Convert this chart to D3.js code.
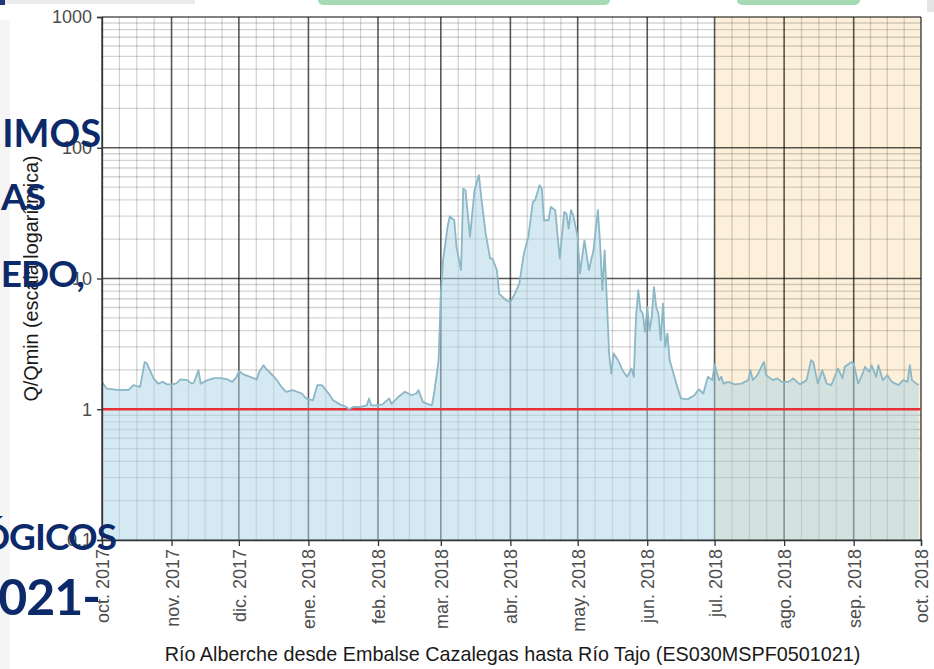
<!DOCTYPE html>
<html>
<head>
<meta charset="utf-8">
<script src="https://cdnjs.cloudflare.com/ajax/libs/d3/7.8.5/d3.min.js"></script>
<style>
  html, body { margin: 0; padding: 0; background: #fff; }
  figure { margin: 0; }
  svg { display: block; }
</style>
</head>
<body>
<figure id="chart"></figure>
<script>
// daily Q/Qmin readings (sampled from the figure)
const dates = [
  "2017-10-01","2017-10-03","2017-10-06","2017-10-09","2017-10-13","2017-10-15","2017-10-18","2017-10-20","2017-10-21","2017-10-24","2017-10-26","2017-10-28","2017-10-30",
  "2017-11-01","2017-11-03","2017-11-05","2017-11-08","2017-11-10","2017-11-11","2017-11-13","2017-11-14","2017-11-17","2017-11-20","2017-11-23","2017-11-26","2017-11-28","2017-11-30",
  "2017-12-01","2017-12-03","2017-12-06","2017-12-09","2017-12-10","2017-12-12","2017-12-13","2017-12-16","2017-12-18","2017-12-20","2017-12-22","2017-12-25","2017-12-27","2017-12-29","2017-12-31",
  "2018-01-03","2018-01-05","2018-01-07","2018-01-10","2018-01-12","2018-01-15","2018-01-18","2018-01-19","2018-01-21","2018-01-24","2018-01-27","2018-01-28","2018-01-29","2018-01-31",
  "2018-02-03","2018-02-06","2018-02-07","2018-02-10","2018-02-13","2018-02-16","2018-02-18","2018-02-19","2018-02-21","2018-02-23","2018-02-25","2018-02-26","2018-02-28",
  "2018-03-01","2018-03-02","2018-03-04","2018-03-05","2018-03-07","2018-03-08","2018-03-10","2018-03-11","2018-03-12","2018-03-14","2018-03-16","2018-03-17","2018-03-18","2018-03-19","2018-03-21","2018-03-23","2018-03-24","2018-03-26","2018-03-27","2018-03-30",
  "2018-04-01","2018-04-03","2018-04-05","2018-04-07","2018-04-09","2018-04-11","2018-04-12","2018-04-14","2018-04-15","2018-04-16","2018-04-18","2018-04-19","2018-04-21","2018-04-23","2018-04-25","2018-04-26","2018-04-27","2018-04-28","2018-04-29",
  "2018-05-01","2018-05-02","2018-05-04","2018-05-06","2018-05-08","2018-05-10","2018-05-11","2018-05-12","2018-05-13","2018-05-14","2018-05-15","2018-05-16","2018-05-17","2018-05-19","2018-05-21","2018-05-23","2018-05-25","2018-05-26","2018-05-27","2018-05-28","2018-05-29","2018-05-30","2018-05-31",
  "2018-06-01","2018-06-02","2018-06-03","2018-06-04","2018-06-05","2018-06-06","2018-06-07","2018-06-08","2018-06-09","2018-06-10","2018-06-11","2018-06-14","2018-06-16","2018-06-19","2018-06-22","2018-06-24","2018-06-26","2018-06-28","2018-06-30",
  "2018-07-01","2018-07-03","2018-07-04","2018-07-05","2018-07-07","2018-07-10","2018-07-13","2018-07-16","2018-07-17","2018-07-18","2018-07-20","2018-07-23","2018-07-24","2018-07-27","2018-07-29","2018-07-31",
  "2018-08-03","2018-08-05","2018-08-08","2018-08-11","2018-08-13","2018-08-14","2018-08-16","2018-08-18","2018-08-20","2018-08-22","2018-08-25","2018-08-27","2018-08-28","2018-08-31",
  "2018-09-01","2018-09-03","2018-09-05","2018-09-06","2018-09-08","2018-09-09","2018-09-11","2018-09-12","2018-09-14","2018-09-16","2018-09-18","2018-09-21","2018-09-23","2018-09-25","2018-09-26","2018-09-27","2018-09-29","2018-09-30"
];
const qRatio = [
  1.62,1.44,1.42,1.40,1.41,1.53,1.48,2.30,2.24,1.72,1.57,1.62,1.55,
  1.55,1.57,1.69,1.67,1.57,1.60,1.99,1.57,1.67,1.73,1.73,1.69,1.62,1.77,
  1.96,1.85,1.77,1.69,1.93,2.17,2.05,1.82,1.67,1.48,1.36,1.40,1.36,1.32,1.21,
  1.17,1.53,1.53,1.32,1.17,1.09,1.04,1.00,1.04,1.04,1.07,1.21,1.07,1.07,
  1.09,1.21,1.10,1.24,1.36,1.28,1.32,1.40,1.14,1.10,1.07,1.32,2.37,
  7.67,13.8,24.8,29.9,27.9,17.4,11.6,48.7,47.3,20.8,47.0,54.8,61.6,42.0,22.0,14.2,14.2,11.6,7.67,6.82,
  6.6,7.67,9.15,15.5,20.8,38.5,39.7,51.7,48.7,27.9,27.9,35.3,33.3,14.2,32.3,31.3,24.1,33.3,30.5,
  20.8,10.9,19.6,11.6,16.4,33.3,18.5,8.13,16.4,6.8,2.67,1.87,2.67,2.37,1.99,1.77,2.05,1.77,5.08,8.13,5.71,5.4,3.9,
  6.06,4.0,5.08,8.6,6.06,5.4,3.37,6.43,3.0,3.79,2.37,1.57,1.21,1.19,1.28,1.42,1.32,1.77,1.67,
  2.2,1.67,1.77,1.57,1.62,1.55,1.57,1.67,1.99,1.67,1.82,2.30,1.82,1.67,1.72,1.62,
  1.62,1.72,1.55,1.67,2.37,2.30,1.57,1.99,1.57,1.53,2.05,1.72,2.11,2.30,
  2.24,1.57,1.87,2.11,1.93,2.17,1.77,2.17,1.67,1.82,1.62,1.53,1.67,1.62,2.17,1.67,1.57,1.53
];

const monthDates = ["2017-10-01","2017-11-01","2017-12-01","2018-01-01","2018-02-01","2018-03-01",
  "2018-04-01","2018-05-01","2018-06-01","2018-07-01","2018-08-01","2018-09-01","2018-10-01"];
const monthLabels = ["oct. 2017","nov. 2017","dic. 2017","ene. 2018","feb. 2018","mar. 2018",
  "abr. 2018","may. 2018","jun. 2018","jul. 2018","ago. 2018","sep. 2018","oct. 2018"];
const yTicks = [0.1, 1, 10, 100, 1000];
const yTickLabels = ["0.1", "1", "10", "100", "1000"];
const threshold = 1;
const summerPeriod = ["2018-07-01", "2018-10-01"];
const xTitle = "Río Alberche desde Embalse Cazalegas hasta Río Tajo (ES030MSPF0501021)";
const yTitle = "Q/Qmin (escala logarítmica)";
// fragments of the slide text lying over the chart
const slideText = ["NIMOS", "AS", "EDO,", "ÓGICOS", "021-"];

const W = 934, H = 669;
const margin = { top: 17, right: 13, bottom: 129, left: 102 };
const width = W - margin.left - margin.right;
const height = H - margin.top - margin.bottom;
const parse = d3.utcParse("%Y-%m-%d");
const data = dates.map((d, i) => ({ date: parse(d), v: qRatio[i] }));
const months = monthDates.map(parse);

const svg = d3.select("#chart").append("svg")
  .attr("width", W).attr("height", H);

// bits of the slide behind the chart
svg.append("rect").attr("x", 0).attr("y", 0).attr("width", 195).attr("height", 4).attr("fill", "#ebebeb");
svg.append("rect").attr("x", 0).attr("y", 0).attr("width", 5).attr("height", 5).attr("fill", "#1d3a78");
svg.append("rect").attr("x", 318).attr("y", -6).attr("width", 292).attr("height", 11).attr("rx", 5).attr("fill", "#a6dab3");
svg.append("rect").attr("x", 737).attr("y", -6).attr("width", 123).attr("height", 11).attr("rx", 5).attr("fill", "#a6dab3");
svg.append("rect").attr("x", 927).attr("y", 0).attr("width", 7).attr("height", 12).attr("fill", "#e4e4e4");
svg.append("rect").attr("x", 0).attr("y", 20).attr("width", 10).attr("height", 649).attr("fill", "#f5f5f5");

const g = svg.append("g")
  .attr("transform", "translate(" + margin.left + "," + margin.top + ")");

const x = d3.scaleUtc().domain([months[0], months[months.length - 1]]).range([0, width]);
const y = d3.scaleLog().domain([0.1, 1000]).range([height, 0]);

// summer shading
g.append("rect")
  .attr("x", x(parse(summerPeriod[0])))
  .attr("y", 0)
  .attr("width", x(parse(summerPeriod[1])) - x(parse(summerPeriod[0])))
  .attr("height", height)
  .attr("fill", "#fdf0da");

// minor grid
const yMinor = [];
yTicks.slice(0, -1).forEach(d => { for (let k = 2; k <= 9; k++) yMinor.push(d * k); });
const xMinor = [];
for (let i = 0; i < months.length - 1; i++) {
  const a = x(months[i]), b = x(months[i + 1]);
  [0.25, 0.5, 0.75].forEach(f => xMinor.push(a + (b - a) * f));
}
const grid = g.append("g").attr("fill", "none");
grid.selectAll(".hmin").data(yMinor).enter().append("line")
  .attr("x1", 0).attr("x2", width)
  .attr("y1", d => y(d)).attr("y2", d => y(d))
  .attr("stroke", "rgba(0,0,0,0.17)").attr("stroke-width", 1.3);
grid.selectAll(".vmin").data(xMinor).enter().append("line")
  .attr("x1", d => d).attr("x2", d => d)
  .attr("y1", 0).attr("y2", height)
  .attr("stroke", "rgba(0,0,0,0.17)").attr("stroke-width", 1.3);
// major grid
grid.selectAll(".hmaj").data(yTicks).enter().append("line")
  .attr("x1", 0).attr("x2", width)
  .attr("y1", d => y(d)).attr("y2", d => y(d))
  .attr("stroke", "rgba(0,0,0,0.66)").attr("stroke-width", 1.6);
grid.selectAll(".vmaj").data(months).enter().append("line")
  .attr("x1", d => x(d)).attr("x2", d => x(d))
  .attr("y1", 0).attr("y2", height)
  .attr("stroke", "rgba(0,0,0,0.66)").attr("stroke-width", 1.6);

// flow area
const area = d3.area()
  .x(d => x(d.date))
  .y0(y(0.1))
  .y1(d => y(d.v));
g.append("path").datum(data)
  .attr("d", area)
  .attr("fill", "#a9d3e3")
  .attr("fill-opacity", 0.5);

// Qmin reference
g.append("line")
  .attr("x1", 0).attr("x2", width)
  .attr("y1", y(threshold)).attr("y2", y(threshold))
  .attr("stroke", "#e8303a").attr("stroke-width", 2.6);

g.append("path").datum(data)
  .attr("d", d3.line().x(d => x(d.date)).y(d => y(d.v)))
  .attr("fill", "none")
  .attr("stroke", "#8cb7c7")
  .attr("stroke-width", 1.8)
  .attr("stroke-linejoin", "round");

// axes
const font = "'Liberation Sans', Arial, sans-serif";
const yAxis = g.append("g")
  .call(d3.axisLeft(y).tickValues(yTicks).tickFormat((d, i) => yTickLabels[i]).tickSize(5).tickPadding(5));
const xAxis = g.append("g")
  .attr("transform", "translate(0," + height + ")")
  .call(d3.axisBottom(x).tickValues(months).tickFormat((d, i) => monthLabels[i]).tickSize(6));
[yAxis, xAxis].forEach(a => {
  a.select(".domain").attr("stroke", "#333").attr("stroke-width", 1.3);
  a.selectAll(".tick line").attr("stroke", "#333").attr("stroke-width", 1.3);
  a.selectAll("text").attr("fill", "#4d4d4d").style("font-family", font).style("font-size", "18px");
});
xAxis.selectAll("text")
  .attr("transform", "rotate(-90)")
  .attr("x", -9).attr("y", 0).attr("dy", "0.36em")
  .style("text-anchor", "end");

svg.append("text")
  .attr("x", margin.left + width / 2 + 1).attr("y", 661)
  .attr("text-anchor", "middle")
  .attr("fill", "#1a1a1a")
  .style("font-family", font).style("font-size", "19.8px")
  .text(xTitle);
svg.append("text")
  .attr("transform", "translate(38," + (margin.top + height / 2) + ")rotate(-90)")
  .attr("text-anchor", "middle")
  .attr("fill", "#1a1a1a")
  .style("font-family", font).style("font-size", "19.8px")
  .text(yTitle);

// slide text on top: [x end, baseline, size, letter spacing]
const slidePos = [[101, 147, 38, 0], [45, 210, 37, -1], [84, 287, 37, -1], [116, 550, 37, -1], [100, 615, 50, -1]];
svg.selectAll(".slide").data(slideText).enter().append("text")
  .attr("x", (d, i) => slidePos[i][0])
  .attr("y", (d, i) => slidePos[i][1])
  .attr("text-anchor", "end")
  .attr("fill", "#0c2a6a")
  .style("font-family", "Lato, 'Open Sans', sans-serif")
  .style("font-weight", "bold")
  .style("letter-spacing", (d, i) => slidePos[i][3] + "px")
  .style("font-size", (d, i) => slidePos[i][2] + "px")
  .text(d => d);
</script>
</body>
</html>
